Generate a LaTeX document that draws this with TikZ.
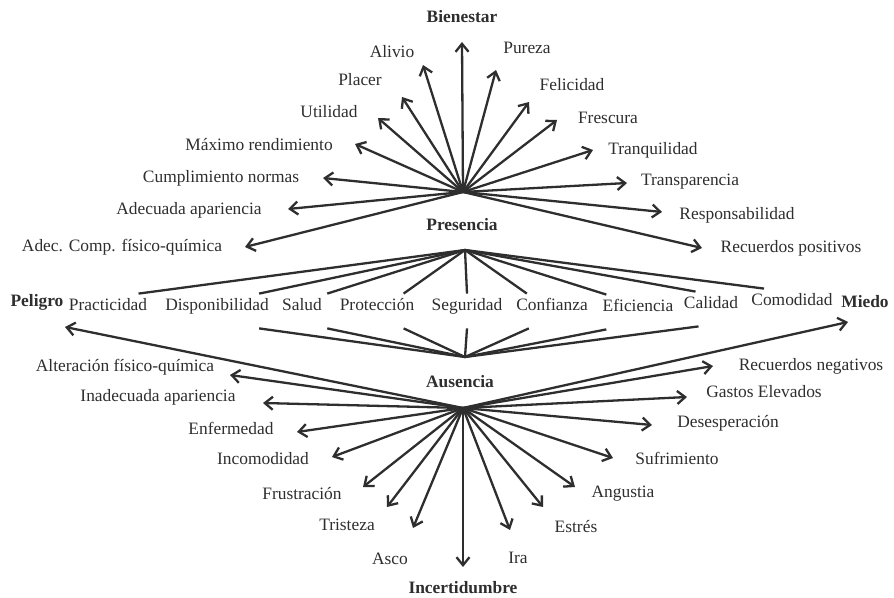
\documentclass[tikz,border=0pt]{standalone}
\usepackage{fontspec}
\setmainfont{Liberation Serif}
\usetikzlibrary{arrows.meta}

\definecolor{ink}{HTML}{2E2E2E}

\begin{document}
\begin{tikzpicture}[x=0.5pt,y=-0.5pt]
    \tikzstyle{word}    = [ink,inner sep=1pt,font=\fontsize{8.7}{10}\selectfont]
    \tikzstyle{pole}    = [word,font=\fontsize{8.7}{10}\selectfont\bfseries]
    \tikzstyle{quality} = [word,inner sep=0pt,text height=8.5pt,text depth=8.5pt]
    \tikzstyle{ray}     = [draw,ink,line width=1.15pt,-{Straight Barb[length=4pt,width=6.5pt]}]
    \tikzstyle{link}    = [draw,ink,line width=1.15pt,-]

    \useasboundingbox (0,0) rectangle (894,598);

    % hubs
    \coordinate (top) at (463,192);
    \coordinate (pu)  at (465,250);
    \coordinate (pd)  at (465,357);
    \coordinate (bot) at (463,408);

    % poles
    \node[pole] (bien) at (462,17)  {Bienestar};
    \node[pole] (pres) at (462,225) {Presencia};
    \node[pole] (aus)  at (460,382) {Ausencia};
    \node[pole] (inc)  at (463,588) {Incertidumbre};
    \node[pole] (pel)  at (37,302)  {Peligro};
    \node[pole] (mie)  at (865,302) {Miedo};

    % upper star
    \node[word] (alivio)  at (392,52)  {Alivio};
    \node[word] (placer)  at (360,80)  {Placer};
    \node[word] (utilid)  at (329,112) {Utilidad};
    \node[word] (maximo)  at (259,145) {Máximo rendimiento};
    \node[word] (cumpl)   at (221,178) {Cumplimiento normas};
    \node[word] (adecap)  at (189,210) {Adecuada apariencia};
    \node[word] (adecomp) at (122,247) {Adec. Comp. físico-química};
    \node[word] (pureza)  at (527,48)  {Pureza};
    \node[word] (felic)   at (572,85)  {Felicidad};
    \node[word] (fresc)   at (608,118) {Frescura};
    \node[word] (tranq)   at (653,150) {Tranquilidad};
    \node[word] (transp)  at (690,182) {Transparencia};
    \node[word] (respon)  at (737,215) {Responsabilidad};
    \node[word] (recpos)  at (791,248) {Recuerdos positivos};

    \coordinate (t-bien)    at (462,42);
    \coordinate (t-alivio)  at (423,65);
    \coordinate (t-placer)  at (402,97);
    \coordinate (t-utilid)  at (378,118);
    \coordinate (t-maximo)  at (355,144);
    \coordinate (t-cumpl)   at (323,178);
    \coordinate (t-adecap)  at (288,209);
    \coordinate (t-adecomp) at (245,247);
    \coordinate (t-pureza)  at (496,70);
    \coordinate (t-felic)   at (529,102);
    \coordinate (t-fresc)   at (557,120);
    \coordinate (t-tranq)   at (593,150);
    \coordinate (t-transp)  at (627,183);
    \coordinate (t-respon)  at (662,212);
    \coordinate (t-recpos)  at (702,248);

    \draw[ray] (top) -- (t-bien);
    \draw[ray] (top) -- (t-alivio);
    \draw[ray] (top) -- (t-placer);
    \draw[ray] (top) -- (t-utilid);
    \draw[ray] (top) -- (t-maximo);
    \draw[ray] (top) -- (t-cumpl);
    \draw[ray] (top) -- (t-adecap);
    \draw[ray] (top) -- (t-adecomp);
    \draw[ray] (top) -- (t-pureza);
    \draw[ray] (top) -- (t-felic);
    \draw[ray] (top) -- (t-fresc);
    \draw[ray] (top) -- (t-tranq);
    \draw[ray] (top) -- (t-transp);
    \draw[ray] (top) -- (t-respon);
    \draw[ray] (top) -- (t-recpos);

    % middle row
    \node[quality] (prac) at (108,311) {Practicidad};
    \node[quality] (disp) at (217,311) {Disponibilidad};
    \node[quality] (salud) at (302,311) {Salud};
    \node[quality] (prot) at (377,311) {Protección};
    \node[quality] (segu) at (467,311) {Seguridad};
    \node[quality] (conf) at (552,311) {Confianza};
    \node[quality] (efic) at (638,312) {Eficiencia};
    \node[quality] (cali) at (711,309) {Calidad};
    \node[quality] (como) at (792,306) {Comodidad};

    \draw[link] (pu) -- ([xshift=-4.5pt]prac.north east);
    \draw[link] (pu) -- ([xshift=-5pt]disp.north east);
    \draw[link] (pu) -- ([xshift=2.5pt]salud.north east);
    \draw[link] (pu) -- ([xshift=-5.5pt]prot.north east);
    \draw[link] (pu) -- (segu.north);
    \draw[link] (pu) -- ([xshift=5.5pt]conf.north west);
    \draw[link] (pu) -- ([xshift=2pt]efic.north west);
    \draw[link] (pu) -- ([xshift=6pt]cali.north west);
    \draw[link] (pu) -- ([xshift=6.5pt]como.north west);

    \draw[link] (pd) -- ([xshift=-5pt]disp.south east);
    \draw[link] (pd) -- ([xshift=2.5pt]salud.south east);
    \draw[link] (pd) -- ([xshift=-5.5pt]prot.south east);
    \draw[link] (pd) -- (segu.south);
    \draw[link] (pd) -- ([xshift=6.5pt]conf.south west);
    \draw[link] (pd) -- ([xshift=2pt]efic.south west);
    \draw[link] (pd) -- ([xshift=7.5pt]cali.south west);

    % lower star
    \node[word] (alter)  at (125,367) {Alteración físico-química};
    \node[word] (inadec) at (158,397) {Inadecuada apariencia};
    \node[word] (enfer)  at (231,428) {Enfermedad};
    \node[word] (incom)  at (263,459) {Incomodidad};
    \node[word] (frust)  at (302,494) {Frustración};
    \node[word] (trist)  at (347,525) {Tristeza};
    \node[word] (asco)   at (390,559) {Asco};
    \node[word] (ira)    at (518,558) {Ira};
    \node[word] (estres) at (576,527) {Estrés};
    \node[word] (angus)  at (623,494) {Angustia};
    \node[word] (sufri)  at (677,458) {Sufrimiento};
    \node[word] (deses)  at (728,423) {Desesperación};
    \node[word] (gastos) at (764,392) {Gastos Elevados};
    \node[word] (recneg) at (811,366) {Recuerdos negativos};

    \coordinate (t-pel)    at (65,327);
    \coordinate (t-mie)    at (848,322);
    \coordinate (t-inc)    at (463,567);
    \coordinate (t-alter)  at (230,375);
    \coordinate (t-inadec) at (263,403);
    \coordinate (t-enfer)  at (297,432);
    \coordinate (t-incom)  at (332,457);
    \coordinate (t-frust)  at (363,487);
    \coordinate (t-trist)  at (387,507);
    \coordinate (t-asco)   at (413,528);
    \coordinate (t-ira)    at (510,530);
    \coordinate (t-estres) at (543,507);
    \coordinate (t-angus)  at (575,487);
    \coordinate (t-sufri)  at (613,458);
    \coordinate (t-deses)  at (652,425);
    \coordinate (t-gastos) at (687,397);
    \coordinate (t-recneg) at (713,366);

    \draw[ray] (bot) -- (t-pel);
    \draw[ray] (bot) -- (t-mie);
    \draw[ray] (bot) -- (t-inc);
    \draw[ray] (bot) -- (t-alter);
    \draw[ray] (bot) -- (t-inadec);
    \draw[ray] (bot) -- (t-enfer);
    \draw[ray] (bot) -- (t-incom);
    \draw[ray] (bot) -- (t-frust);
    \draw[ray] (bot) -- (t-trist);
    \draw[ray] (bot) -- (t-asco);
    \draw[ray] (bot) -- (t-ira);
    \draw[ray] (bot) -- (t-estres);
    \draw[ray] (bot) -- (t-angus);
    \draw[ray] (bot) -- (t-sufri);
    \draw[ray] (bot) -- (t-deses);
    \draw[ray] (bot) -- (t-gastos);
    \draw[ray] (bot) -- (t-recneg);
\end{tikzpicture}
\end{document}
